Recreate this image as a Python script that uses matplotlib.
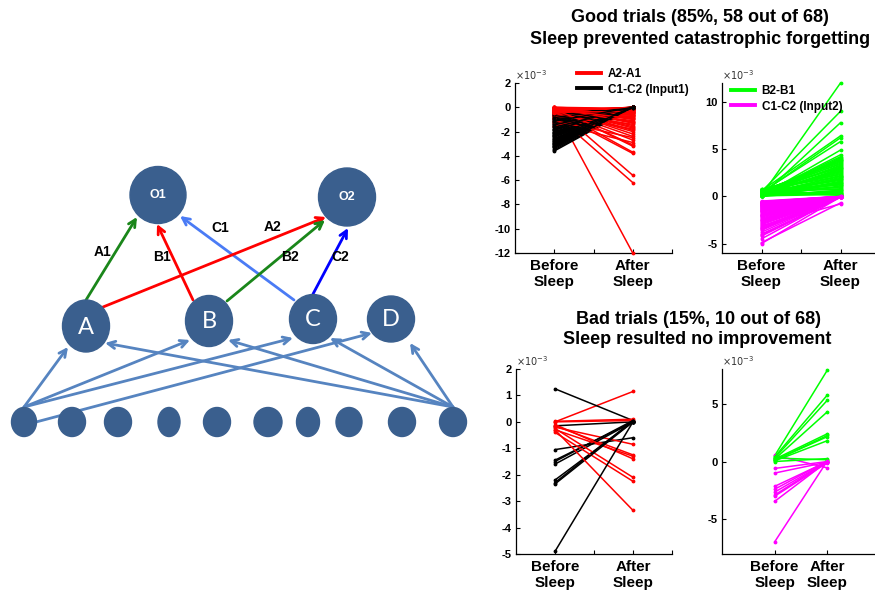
import matplotlib
matplotlib.use("Agg")
import matplotlib.pyplot as plt
from matplotlib.patches import Ellipse

W, H = 875, 598
plt.rcParams['font.family'] = ['Liberation Sans', 'DejaVu Sans']

# ---------------- data ----------------
conditions = ["Before\nSleep", "After\nSleep"]

# Good trials (58)
good_a_before = [-0.05, -0.1, 0.0, -0.2, -0.15, -0.3, -0.05, -0.4, -0.25, -0.1,
                 -0.6, -0.35, 0.0, -0.5, -0.15, -0.8, -0.2, -0.45, -0.05, -1.0,
                 -0.3, -0.1, -0.7, -0.55, 0.0, -0.25, -1.3, -0.4, -0.1, -0.65,
                 -0.2, -0.05, -0.9, -0.35, -0.15, -1.5, -0.5, 0.0, -0.3, -0.75,
                 -0.1, -0.2, -0.45, -0.05, -1.1, -0.6, -0.25, -0.15, -0.35, 0.0,
                 -0.5, -0.1, -0.85, -0.2, -0.4, -0.05, -0.3, -0.15]
good_a_after = [-0.2, -1.0, -12.0, -0.4, -2.4, -0.1, -0.6, -3.8, -0.05, -1.5,
                -0.3, -0.8, -5.6, -0.15, -2.0, -0.5, -1.2, 0.0, -3.2, -0.7,
                -0.25, -1.7, -0.45, -6.2, -0.1, -0.9, -2.9, -0.35, -1.3, -0.05,
                -0.55, -2.2, -0.2, -1.1, -3.7, -0.4, -0.75, -1.9, 0.0, -0.6,
                -3.1, -0.3, -1.4, -0.15, -2.5, -0.85, -0.05, -1.6, -0.5, -0.25,
                -1.8, -0.65, -0.1, -2.7, -0.35, -1.25, 0.0, -0.95]
good_c1_before = [-0.5, -1.2, -2.0, -2.8, -3.6, -0.8, -1.5, -2.3, -3.1, -1.0,
                  -1.8, -2.6, -3.4, -0.6, -1.3, -2.1, -2.9, -0.9, -1.6, -2.4,
                  -3.2, -0.7, -1.4, -2.2, -3.0, -1.1, -1.9, -2.7, -3.5, -0.4,
                  -1.25, -2.05, -2.85, -0.75, -1.55, -2.35, -3.15, -0.95, -1.75, -2.55,
                  -3.3, -0.55, -1.35, -2.15, -2.95, -1.05, -1.85, -2.65, -0.65, -1.45,
                  -2.25, -3.05, -0.85, -1.65, -2.45, -3.25, -1.15, -2.75]
good_c1_after = [0.0, -0.02, 0.0, 0.0, -0.05, 0.0, 0.0, -0.03, 0.0, 0.0,
                 -0.02, 0.0, 0.0, 0.0, -0.04, 0.0, 0.0, 0.0, -0.02, 0.0,
                 0.0, -0.03, 0.0, 0.0, 0.0, -0.01, 0.0, 0.0, -0.05, 0.0,
                 0.0, 0.0, -0.02, 0.0, 0.0, 0.0, -0.03, 0.0, 0.0, -0.01,
                 0.0, 0.0, 0.0, -0.02, 0.0, 0.0, -0.04, 0.0, 0.0, 0.0,
                 -0.01, 0.0, 0.0, 0.0, -0.03, 0.0, 0.0, -0.02]
good_b_before = [0.1, 0.3, 0.0, 0.5, 0.2, 0.7, 0.05, 0.4, 0.15, 0.6,
                 0.25, 0.0, 0.35, 0.8, 0.1, 0.45, 0.2, 0.55, 0.05, 0.3,
                 0.65, 0.15, 0.0, 0.4, 0.25, 0.75, 0.1, 0.5, 0.2, 0.35,
                 0.05, 0.6, 0.3, 0.0, 0.45, 0.15, 0.7, 0.25, 0.1, 0.55,
                 0.4, 0.05, 0.2, 0.65, 0.3, 0.0, 0.5, 0.15, 0.35, 0.1,
                 0.6, 0.25, 0.45, 0.05, 0.3, 0.2, 0.4, 0.1]
good_b_after = [12.0, 2.1, 0.6, 9.0, 3.3, 1.2, 7.8, 2.6, 0.3, 6.4,
                1.8, 4.0, 6.2, 0.9, 2.9, 5.8, 1.5, 3.6, 4.9, 0.4,
                2.3, 4.4, 1.1, 3.1, 4.2, 0.7, 2.0, 3.8, 1.4, 2.7,
                0.2, 3.4, 1.7, 4.1, 2.4, 0.5, 3.0, 1.3, 2.2, 3.7,
                0.8, 1.9, 2.8, 0.1, 3.5, 1.6, 2.5, 1.0, 3.2, 0.35,
                2.15, 1.25, 3.9, 0.65, 1.85, 2.95, 0.15, 1.45]
good_c2_before = [-0.5, -1.2, -2.0, -0.8, -3.1, -1.6, -4.0, -0.6, -2.5, -1.0,
                  -3.5, -1.4, -0.7, -2.2, -4.5, -1.8, -0.9, -2.8, -1.1, -3.3,
                  -0.55, -2.1, -1.5, -4.9, -0.75, -2.6, -1.3, -3.0, -0.65, -1.9,
                  -3.8, -1.05, -2.4, -0.85, -1.7, -4.2, -0.6, -2.9, -1.25, -3.6,
                  -0.95, -2.3, -1.45, -5.0, -0.7, -2.7, -1.15, -3.2, -0.8, -1.95,
                  -4.1, -1.35, -2.05, -0.9, -3.4, -1.6, -2.55, -1.0]
good_c2_after = [0.0, -0.05, 0.0, 0.0, -0.8, 0.0, -0.1, 0.0, 0.0, -0.05,
                 0.0, 0.0, -0.02, 0.0, 0.0, 0.0, -0.08, 0.0, 0.0, 0.0,
                 -0.03, 0.0, 0.0, -0.7, 0.0, 0.0, 0.0, -0.05, 0.0, 0.0,
                 0.0, -0.02, 0.0, 0.0, 0.0, -0.1, 0.0, 0.0, -0.04, 0.0,
                 0.0, 0.0, 0.0, -0.06, 0.0, 0.0, -0.02, 0.0, 0.0, 0.0,
                 -0.03, 0.0, 0.0, 0.0, -0.05, 0.0, 0.0, 0.0]

# Bad trials (10)
bad_a_before = [0.0, 0.02, 0.0, -0.2, -0.15, -0.3, -0.1, -0.25, -0.4, -0.3]
bad_a_after = [1.15, 0.1, 0.05, -0.85, -1.25, -1.3, -1.4, -2.1, -2.25, -3.35]
bad_c1_before = [1.25, -0.15, -1.05, -1.45, -1.5, -1.6, -2.2, -2.3, -2.35, -4.9]
bad_c1_after = [0.05, 0.0, -0.6, 0.0, 0.05, 0.0, 0.0, 0.05, 0.0, 0.0]
bad_b_before = [0.5, 0.4, 0.3, 0.2, 0.2, 0.1, 0.1, 0.05, 0.0, 0.3]
bad_b_after = [7.9, 5.75, 5.3, 4.3, 2.4, 2.25, 2.15, 1.8, 0.25, 0.15]
bad_c2_before = [0.55, -0.6, -1.0, -2.15, -2.4, -2.65, -2.9, -3.0, -3.45, -6.95]
bad_c2_after = [-0.55, 0.0, -0.05, 0.0, 0.05, 0.0, 0.0, -0.1, 0.0, 0.05]

# ---------------- figure ----------------
fig = plt.figure(figsize=(W / 100, H / 100), dpi=100)

# ---- network diagram ----
ax0 = fig.add_axes([0, 0, 1, 1])
ax0.set_xlim(0, W)
ax0.set_ylim(H, 0)
ax0.axis('off')

node_col = '#3A5F8E'
big_nodes = {'O1': (158, 195, 56, 57), 'O2': (347, 197, 57, 58)}
mid_nodes = {'A': (86, 326, 47, 52), 'B': (209, 321, 47, 51),
             'C': (313, 319, 47, 49), 'D': (391, 319, 47, 46)}
bottom_x = [24, 72, 118, 169, 217, 268, 308, 349, 402, 453]
bottom_w = [25, 27, 27, 22, 27, 28, 23, 26, 27, 27]

arrows = [
    ((86, 300), (137, 217), '#1A861A', 'A1'),
    ((193, 300), (157, 224), '#FF0000', 'B1'),
    ((294, 300), (180, 216), '#4A7BF5', 'C1'),
    ((103, 307), (326, 217), '#FF0000', 'A2'),
    ((227, 301), (325, 220), '#1A861A', 'B2'),
    ((313, 294), (348, 228), '#0000FF', 'C2'),
    ((24, 407), (68, 347), '#5684C0', None),
    ((24, 407), (190, 340), '#5684C0', None),
    ((24, 407), (293, 338), '#5684C0', None),
    ((36, 422), (372, 333), '#5684C0', None),
    ((453, 407), (105, 343), '#5684C0', None),
    ((453, 407), (228, 340), '#5684C0', None),
    ((453, 407), (330, 338), '#5684C0', None),
    ((453, 407), (410, 343), '#5684C0', None),
]
for tail, head, col, _ in arrows:
    ax0.annotate('', xy=head, xytext=tail,
                 arrowprops=dict(arrowstyle='->', color=col, lw=2,
                                 mutation_scale=13, shrinkA=0, shrinkB=0),
                 zorder=2)

edge_labels = {'A1': (103, 252), 'B1': (162, 257), 'C1': (220, 228),
               'A2': (272, 227), 'B2': (290, 257), 'C2': (340, 257)}
for name, (x, y) in edge_labels.items():
    ax0.text(x, y, name, ha='center', va='center', fontsize=10,
             fontweight='bold', color='black', zorder=5)

for name, (x, y, w, h) in big_nodes.items():
    ax0.add_patch(Ellipse((x, y), w, h, color=node_col, zorder=3))
    ax0.text(x, y, name, ha='center', va='center', color='white',
             fontsize=9, fontweight='bold', zorder=4)
for name, (x, y, w, h) in mid_nodes.items():
    ax0.add_patch(Ellipse((x, y), w, h, color=node_col, zorder=3))
    ax0.text(x, y + 1, name, ha='center', va='center', color='white',
             fontsize=17, family=['Lato', 'DejaVu Sans'], zorder=4)
for x, w in zip(bottom_x, bottom_w):
    ax0.add_patch(Ellipse((x, 422), w, 29, color=node_col, zorder=3))


# ---- line panels ----
def make_ax(l, t, r, b):
    return fig.add_axes([l / W, 1 - b / H, (r - l) / W, (b - t) / H])


def style(ax, xlim, ylim, yticks, xticks):
    ax.set_xlim(*xlim)
    ax.set_ylim(*ylim)
    ax.set_yticks(yticks)
    ax.set_yticklabels([str(v) for v in yticks])
    ax.set_xticks(xticks)
    ax.set_xticklabels([conditions[0] if v == 1 else conditions[1] if v == 2 else ''
                        for v in xticks])
    for s in ['top', 'right']:
        ax.spines[s].set_visible(False)
    for s in ['left', 'bottom']:
        ax.spines[s].set_linewidth(0.9)
    ax.tick_params(axis='y', direction='in', length=3, labelsize=8, pad=3)
    ax.tick_params(axis='x', direction='in', length=3, labelsize=11, pad=4)
    for lab in ax.get_yticklabels():
        lab.set_fontweight('bold')
    for lab in ax.get_xticklabels():
        lab.set_fontweight('bold')
        lab.set_linespacing(1.25)
    ax.text(0, 1.005, r'$\times10^{-3}$', transform=ax.transAxes,
            fontsize=7, ha='left', va='bottom', color='#333333')
    ax.patch.set_alpha(0)


def pairs(ax, b1, a1, c1, b2, a2, c2):
    for i in range(len(b1)):
        ax.plot([1, 2], [b1[i], a1[i]], color=c1, lw=1.1, marker='.', ms=3.5,
                clip_on=False, zorder=3)
        ax.plot([1, 2], [b2[i], a2[i]], color=c2, lw=1.1, marker='.', ms=3.5,
                clip_on=False, zorder=3)


def legend(ax, labels, colors, x, y):
    hs = [plt.Line2D([], [], color=c, lw=2.8) for c in colors]
    ax.legend(hs, labels, loc='upper left', bbox_to_anchor=(x / W, 1 - y / H),
              bbox_transform=fig.transFigure, frameon=False, handlelength=2.0,
              handletextpad=0.6, borderpad=0, borderaxespad=0, labelspacing=0.3,
              prop={'weight': 'bold', 'size': 8.5})


ax1 = make_ax(515, 83, 672, 253)
pairs(ax1, good_a_before, good_a_after, 'red', good_c1_before, good_c1_after, 'black')
style(ax1, (0.5, 2.5), (-12, 2), [-12, -10, -8, -6, -4, -2, 0, 2], [1, 1.5, 2, 2.5])
legend(ax1, ['A2-A1', 'C1-C2 (Input1)'], ['red', 'black'], 577, 68)

ax2 = make_ax(722, 83, 880, 253)
pairs(ax2, good_b_before, good_b_after, '#00FF00', good_c2_before, good_c2_after, '#FF00FF')
style(ax2, (0.5, 2.5), (-6, 12), [-5, 0, 5, 10], [1, 1.5, 2, 2.5])
legend(ax2, ['B2-B1', 'C1-C2 (Input2)'], ['#00FF00', '#FF00FF'], 731, 85)

ax3 = make_ax(516, 369, 672, 554)
pairs(ax3, bad_a_before, bad_a_after, 'red', bad_c1_before, bad_c1_after, 'black')
style(ax3, (0.5, 2.5), (-5, 2), [-5, -4, -3, -2, -1, 0, 1, 2], [1, 1.5, 2, 2.5])

ax4 = make_ax(722, 369, 880, 554)
pairs(ax4, bad_b_before, bad_b_after, '#00FF00', bad_c2_before, bad_c2_after, '#FF00FF')
style(ax4, (0, 3), (-8, 8), [-5, 0, 5], [1, 2])

# ---- titles ----
fig.text(700 / W, 1 - 17 / H, 'Good trials (85%, 58 out of 68)', ha='center',
         va='center', fontsize=13, fontweight='bold')
fig.text(700 / W, 1 - 39 / H, 'Sleep prevented catastrophic forgetting', ha='center',
         va='center', fontsize=13, fontweight='bold')
fig.text(699 / W, 1 - 319 / H, 'Bad trials (15%, 10 out of 68)', ha='center',
         va='center', fontsize=13, fontweight='bold')
fig.text(697 / W, 1 - 340 / H, 'Sleep resulted no improvement', ha='center',
         va='center', fontsize=13, fontweight='bold')

fig.savefig('out.png', dpi=100)
